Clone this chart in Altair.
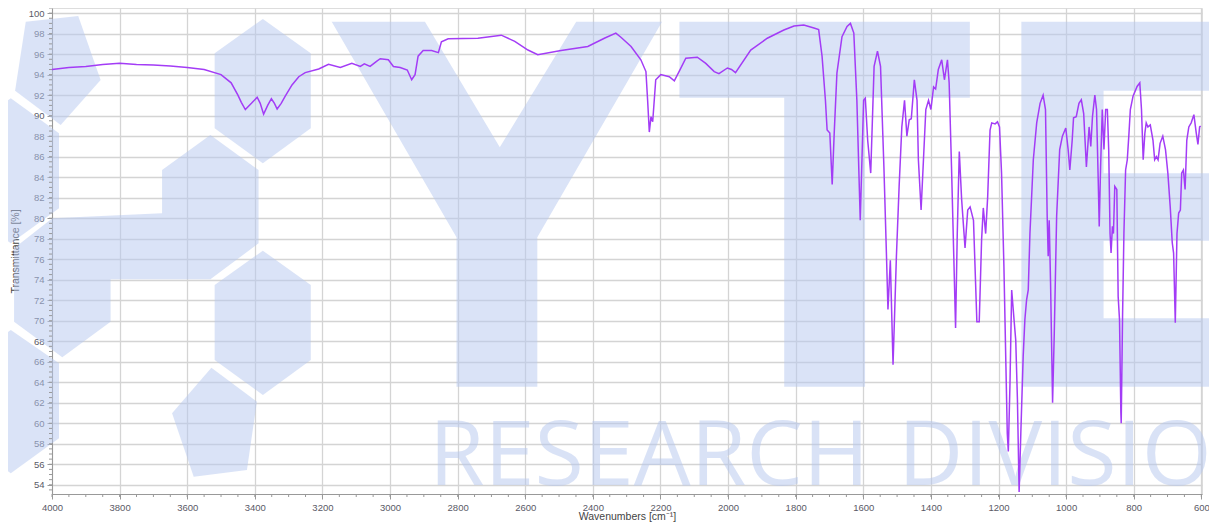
import altair as alt
import pandas as pd

# ---------------- spectrum ----------------
wavenumber = [
    4000, 3950, 3900, 3850, 3800, 3750, 3700, 3650, 3600, 3550, 3500, 3470, 3450, 3440,
    3428, 3410, 3393, 3384, 3374, 3362, 3351, 3342, 3334, 3322, 3310, 3290, 3270, 3251,
    3211, 3182, 3147, 3113, 3088, 3076, 3059, 3040, 3029, 3005, 2990, 2970, 2949, 2936,
    2926, 2917, 2902, 2877, 2857, 2848, 2828, 2740, 2671, 2631, 2592, 2563, 2494, 2415,
    2366, 2332, 2317, 2287, 2258, 2243, 2238, 2233, 2228, 2223, 2214, 2199, 2174, 2159,
    2145, 2125, 2091, 2066, 2041, 2027, 2002, 1990, 1978, 1933, 1884, 1835, 1805, 1776,
    1746, 1732, 1722, 1712, 1707, 1699, 1692, 1686, 1678, 1663, 1648, 1638, 1628, 1619,
    1609, 1599, 1594, 1587, 1578, 1568, 1558, 1549, 1539, 1531, 1527, 1520, 1512, 1502,
    1494, 1486, 1478, 1471, 1464, 1458, 1449, 1441, 1437, 1429, 1422, 1415, 1407, 1400,
    1392, 1386, 1378, 1368, 1360, 1351, 1346, 1339, 1332, 1327, 1322, 1316, 1309, 1299,
    1291, 1284, 1274, 1264, 1257, 1250, 1245, 1238, 1232, 1225, 1220, 1210, 1203, 1197,
    1191, 1184, 1178, 1174, 1171, 1166, 1161, 1154, 1149, 1144, 1139, 1134, 1127, 1122,
    1117, 1112, 1107, 1097, 1087, 1077, 1068, 1061, 1056, 1053, 1050, 1046, 1040, 1035,
    1028, 1019, 1011, 1001, 994, 989, 982, 978, 970, 962, 955, 948, 940, 932,
    927, 922, 915, 910, 905, 902, 898, 893, 888, 883, 878, 874, 870, 867,
    863, 860, 856, 850, 846, 842, 838, 837, 833, 829, 824, 819, 814, 810,
    802, 790, 782, 777, 772, 767, 763, 758, 751, 743, 738, 733, 728, 722,
    714, 706, 699, 692, 686, 682, 677, 672, 667, 662, 658, 653, 648, 643,
    637, 630, 622, 615, 610, 605, 602,
]
transmittance = [
    94.5, 94.7, 94.8, 95.0, 95.1, 95.0, 94.95, 94.85, 94.7, 94.5, 94.0, 93.2, 92.0, 91.3,
    90.6, 91.2, 91.8, 91.2, 90.15, 91.0, 91.65, 91.2, 90.65, 91.2, 91.9, 93.0, 93.8, 94.2,
    94.55, 95.0, 94.7, 95.1, 94.8, 95.05, 94.8, 95.3, 95.55, 95.45, 94.8, 94.7, 94.45, 93.5,
    94.0, 95.8, 96.35, 96.35, 96.15, 97.2, 97.5, 97.55, 97.85, 97.25, 96.4, 95.95, 96.35, 96.75,
    97.55, 98.05, 97.65, 96.75, 95.45, 94.3, 91.5, 88.4, 89.9, 89.4, 93.5, 94.0, 93.8, 93.4,
    94.3, 95.6, 95.7, 95.1, 94.3, 94.1, 94.65, 94.5, 94.2, 96.4, 97.55, 98.35, 98.75, 98.85,
    98.55, 98.4, 95.8, 91.5, 88.6, 88.3, 83.3, 88.3, 94.15, 97.7, 98.7, 99.0, 98.05, 91.5,
    79.8, 91.5, 91.7, 87.6, 84.4, 94.8, 96.3, 94.8, 85.0, 75.9, 71.1, 75.9, 65.7, 76.3,
    83.1, 88.9, 91.5, 88.0, 89.6, 89.7, 93.5, 91.5, 85.7, 80.8, 85.7, 90.6, 91.5, 90.6,
    92.8, 92.6, 94.5, 95.45, 93.5, 95.45, 93.2, 85.0, 75.9, 69.3, 78.5, 86.5, 81.8, 77.1,
    80.8, 81.1, 79.8, 69.9, 69.9, 77.9, 81.0, 78.5, 82.1, 88.6, 89.3, 89.2, 89.4, 88.9,
    84.4, 75.3, 65.5, 59.0, 57.25, 63.9, 73.0, 70.1, 68.1, 62.3, 53.3, 59.0, 66.5, 70.1,
    72.0, 73.0, 78.5, 85.7, 89.3, 91.2, 92.0, 90.6, 80.2, 76.3, 79.8, 73.7, 62.0, 68.8,
    80.2, 86.7, 88.0, 88.8, 86.7, 84.7, 87.6, 89.8, 89.9, 91.2, 91.55, 90.2, 85.0, 88.9,
    87.0, 89.9, 92.0, 90.6, 83.7, 79.2, 85.0, 90.6, 86.7, 90.6, 90.6, 86.7, 78.5, 76.6,
    79.2, 78.5, 83.1, 82.8, 72.35, 70.1, 61.0, 60.0, 70.4, 78.5, 84.7, 85.7, 88.3, 90.6,
    91.9, 92.85, 93.2, 90.6, 85.7, 88.3, 89.3, 88.9, 89.1, 87.6, 85.7, 86.0, 85.7, 87.3,
    88.0, 86.7, 84.4, 81.1, 77.6, 76.6, 69.8, 78.5, 80.5, 80.8, 84.4, 84.7, 82.8, 87.6,
    88.9, 89.3, 90.1, 88.3, 87.2, 88.9, 89.0,
]

# axis ticks
x_ticks = list(range(4000, 599, -200))
y_ticks = list(range(54, 101, 2))
x_minor = list(range(4000, 599, -50))
y_minor = [54 + 0.5 * i for i in range(-1, 94)]

# ---------------- watermark (in wavenumber / % coordinates) ----------------
wm_hex_top_left = [(4077.6, 99.16), (3922.4, 99.72), (3856.2, 93.48), (3974.3, 89.09), (4109.2, 92.43)]
wm_hex_left = [(4121.9, 91.69), (3979.3, 88.28), (3979.3, 80.96), (4121.9, 77.55), (4264.8, 80.96), (4264.8, 88.28)]
wm_b_middle = [(4112.2, 77.06), (3999.1, 79.99), (3674.4, 80.48), (3674.4, 84.70), (3531.5, 88.11),
               (3388.9, 84.70), (3388.9, 77.55), (3531.5, 74.04), (3826.7, 74.04), (3826.7, 69.90),
               (3969.6, 66.43), (4112.2, 69.90)]
wm_hex_top_right = [(3518.8, 96.08), (3376.2, 99.43), (3234.5, 96.08), (3234.5, 88.77), (3376.2, 85.35), (3518.8, 88.77)]
wm_hex_low_right = [(3518.8, 73.48), (3376.2, 76.83), (3234.5, 73.48), (3234.5, 66.17), (3376.2, 62.76), (3518.8, 66.17)]
wm_pent_bottom = [(3644.8, 60.97), (3528.5, 65.42), (3393.9, 62.10), (3423.4, 55.44), (3580.8, 54.79)]
wm_hex_low_left = [(4121.9, 69.10), (3979.3, 65.85), (3979.3, 58.53), (4121.9, 55.12), (4264.8, 58.53), (4264.8, 65.85)]
wm_letter_y = [(3172.5, 99.16), (2896.7, 99.16), (2675.3, 86.91), (2449.2, 99.16), (2195.3, 99.16),
               (2564.3, 78.14), (2564.3, 63.57), (2803.4, 63.57), (2803.4, 78.14)]
wm_letter_t = [(2143.9, 99.16), (1284.8, 99.16), (1284.8, 91.75), (1594.8, 91.75), (1594.8, 63.57),
               (1833.9, 63.57), (1833.9, 91.75), (2143.9, 91.75)]
wm_letter_e = [(1132.4, 99.16), (496.0, 99.16), (496.0, 92.43), (889.2, 92.43), (889.2, 84.38),
               (496.0, 84.38), (496.0, 77.80), (889.2, 77.80), (889.2, 70.24), (496.0, 70.24),
               (496.0, 63.57), (1132.4, 63.57)]
wm_words = ["RESEARCH", "DIVISION"]
wm_words_wn = [2885.0, 1497.0]
wm_words_t = [54.0, 54.0]

shapes = [wm_hex_top_left, wm_hex_left, wm_b_middle, wm_hex_top_right, wm_hex_low_right,
          wm_pent_bottom, wm_hex_low_left, wm_letter_y, wm_letter_t, wm_letter_e]
rows = []
for si, poly in enumerate(shapes):
    pts = poly + [poly[0]]
    for oi, (w, t) in enumerate(pts):
        rows.append({"wn": w, "t": t, "shape": si, "ord": oi})
df_wm = pd.DataFrame(rows)

df_spec = pd.DataFrame({"wn": wavenumber, "t": transmittance})
df_xminor = pd.DataFrame({"wn": x_minor})
df_yminor = pd.DataFrame({"t": y_minor})
df_text = pd.DataFrame({"wn": wm_words_wn, "t": wm_words_t, "label": wm_words})

# ---------------- scales & axes ----------------
label_color = "#5a5a66"
xscale = alt.Scale(domain=[598, 4000], reverse=True, nice=False, zero=False)
yscale = alt.Scale(domain=[53.1, 100.5], nice=False, zero=False)
xaxis = alt.Axis(values=x_ticks, format="d", title="Wavenumbers [cm⁻¹]", grid=True,
                 gridColor="#d4d4d4", gridWidth=1.3, tickSize=5, tickColor="#999",
                 domainColor="#999", labelFont="Liberation Sans", labelFontSize=9.5,
                 labelColor=label_color, labelPadding=3, labelFlush=False, labelOverlap=False,
                 titleFont="Liberation Sans", titleFontSize=10.5, titleFontWeight="normal",
                 titleColor="#444", titlePadding=0)
yaxis = alt.Axis(values=y_ticks, format="d", title="Transmittance [%]", grid=True,
                 gridColor="#d4d4d4", gridWidth=1.3, tickSize=5, tickColor="#999",
                 domainColor="#999", labelFont="Liberation Sans", labelFontSize=9.5,
                 labelColor=label_color, labelPadding=3, labelFlush=False, labelOverlap=False,
                 titleFont="Liberation Sans", titleFontSize=10.5, titleFontWeight="normal",
                 titleColor="#444", titlePadding=8)

X = alt.X("wn:Q", scale=xscale, axis=xaxis)
Y = alt.Y("t:Q", scale=yscale, axis=yaxis)

wm_fill = "#b5c7ef"

watermark = alt.Chart(df_wm).mark_line(
    fill=wm_fill, fillOpacity=0.5, strokeWidth=0, strokeOpacity=0
).encode(x=X, y=Y, detail="shape:N", order="ord:Q")

wm_label = alt.Chart(df_text).mark_text(
    align="left", baseline="alphabetic", font="Open Sans", fontSize=90,
    color=wm_fill, opacity=0.5
).encode(x=X, y=Y, text="label:N")

x_minor_ticks = alt.Chart(df_xminor).mark_rule(color="#999", strokeWidth=1).encode(
    x=X, y=alt.value(486), y2=alt.value(489))
y_minor_ticks = alt.Chart(df_yminor).mark_rule(color="#999", strokeWidth=1).encode(
    y=Y, x=alt.value(-3), x2=alt.value(0))

spectrum = alt.Chart(df_spec).mark_line(color="#a33cf6", strokeWidth=1.5).encode(
    x=X, y=Y, order=alt.Order("wn:Q", sort="descending"))

chart = alt.layer(watermark, wm_label, x_minor_ticks, y_minor_ticks, spectrum).properties(
    width=1150, height=486,
    padding={"left": 44, "top": 0, "right": 7, "bottom": 28},
    autosize=alt.AutoSizeParams(type="none"),
).configure_view(stroke=None).configure(background="white")

chart.save("out.html", embed_options={"renderer": "svg", "actions": False})
